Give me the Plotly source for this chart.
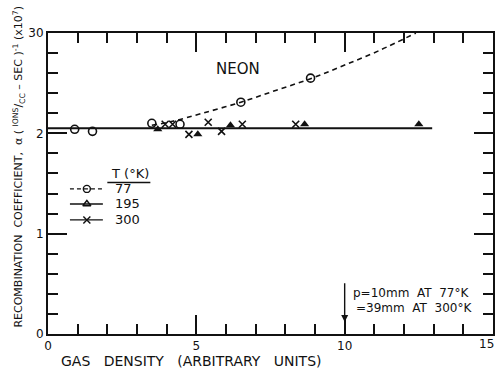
import plotly.graph_objects as go

# ---- data ----
t77_x = [0.9, 1.5, 3.5, 4.45, 6.5, 8.85]
t77_y = [2.04, 2.02, 2.10, 2.09, 2.31, 2.55]
t195_x = [3.7, 5.05, 6.15, 8.65, 12.5]
t195_y = [2.04, 1.99, 2.08, 2.09, 2.09]
t300_x = [3.95, 4.2, 4.75, 5.4, 5.85, 6.55, 8.35]
t300_y = [2.09, 2.09, 1.99, 2.11, 2.02, 2.09, 2.09]
fit77_x = [3.5, 4.2, 5.2, 6.5, 7.7, 8.9, 10.0, 11.2, 12.4]
fit77_y = [2.08, 2.12, 2.20, 2.31, 2.43, 2.55, 2.68, 2.83, 3.0]
flat_x = [0.0, 12.95]
flat_y = [2.05, 2.05]
legend_labels = ["77", "195", "300"]
x_ticks = [0, 5, 10, 15]
x_ticktext = ["0", "5", "10", ""]
y_ticks = [0, 1, 2, 3]
y_ticktext = ["0", "1", "2", "30"]

FONT = "DejaVu Sans"
BLACK = "#111"

fig = go.Figure()
fig.add_trace(go.Scatter(x=flat_x, y=flat_y, mode="lines",
                         line=dict(color=BLACK, width=2), showlegend=False))
fig.add_trace(go.Scatter(x=fit77_x, y=fit77_y, mode="lines",
                         line=dict(color=BLACK, width=1.6, dash="5px,4px", shape="spline"),
                         showlegend=False))
fig.add_trace(go.Scatter(x=t77_x, y=t77_y, mode="markers",
                         marker=dict(symbol="circle-open", size=8, color=BLACK, line=dict(width=1.6)),
                         showlegend=False))
fig.add_trace(go.Scatter(x=t195_x, y=t195_y, mode="markers",
                         marker=dict(symbol="triangle-up", size=8, color=BLACK),
                         showlegend=False))
fig.add_trace(go.Scatter(x=t300_x, y=t300_y, mode="markers",
                         marker=dict(symbol="x-thin", size=7, color=BLACK, line=dict(width=1.6, color=BLACK)),
                         showlegend=False))

# ---- hand-made key (positions in data units) ----
key_rows = [1.446, 1.296, 1.137]
key_x0, key_x1, key_xm = 0.74, 1.85, 1.31
key_syms = ["circle-open", "triangle-up-open", "x-thin"]
key_dash = ["4px,3px", "solid", "solid"]
for row, sym, dsh, lab in zip(key_rows, key_syms, key_dash, legend_labels):
    fig.add_trace(go.Scatter(x=[key_x0, key_x1], y=[row, row], mode="lines",
                             line=dict(color=BLACK, width=1.4, dash=dsh), showlegend=False))
    fig.add_trace(go.Scatter(x=[key_xm], y=[row], mode="markers",
                             marker=dict(symbol=sym, size=7, color=BLACK,
                                         line=dict(width=1.4, color=BLACK)),
                             showlegend=False))
    fig.add_annotation(x=2.2, y=row, text=lab, showarrow=False, xanchor="left",
                       yanchor="middle", font=dict(family=FONT, size=13, color=BLACK))
fig.add_annotation(x=2.05, y=1.6, text="T (°K)", showarrow=False, xanchor="left",
                   yanchor="middle", font=dict(family=FONT, size=13, color=BLACK))
fig.add_shape(type="line", x0=2.0, x1=3.45, y0=1.51, y1=1.51,
              line=dict(color=BLACK, width=1.4))

# dummy trace for the mirrored axes
fig.add_trace(go.Scatter(x=[0], y=[0], xaxis="x2", yaxis="y2", mode="markers",
                         marker=dict(opacity=0), showlegend=False, hoverinfo="skip"))

fig.add_annotation(x=6.4, y=2.64, text="NEON", showarrow=False,
                   font=dict(family=FONT, size=15, color=BLACK))

# pressure note with arrow
fig.add_annotation(x=10, y=0.12, ax=10, ay=0.52, xref="x", yref="y", axref="x", ayref="y",
                   text="", showarrow=True, arrowhead=2, arrowsize=1, arrowwidth=1.4,
                   arrowcolor=BLACK)
fig.add_annotation(x=10.2, y=0.41, text="p=10mm  AT  77°K", showarrow=False, xanchor="left",
                   font=dict(family=FONT, size=12, color=BLACK))
fig.add_annotation(x=10.3, y=0.26, text="=39mm  AT  300°K", showarrow=False, xanchor="left",
                   font=dict(family=FONT, size=12, color=BLACK))

# last x tick label, kept inside the page
fig.add_annotation(x=1.0, y=0, xref="paper", yref="paper", text="15", showarrow=False,
                   xanchor="center", yanchor="top", xshift=-7, yshift=-1,
                   font=dict(family=FONT, size=12, color=BLACK))

# axis titles
fig.add_annotation(x=-0.066, y=0.555, xref="paper", yref="paper",
                   text="RECOMBINATION  COEFFICIENT,  α ( <sup>IONS</sup>/<sub>CC</sub> – SEC )<sup>-1</sup> (x10<sup>7</sup>)",
                   textangle=-90, showarrow=False, xanchor="center", yanchor="middle",
                   font=dict(family=FONT, size=11, color=BLACK))
fig.add_annotation(x=0.323, y=-0.09, xref="paper", yref="paper",
                   text="GAS   DENSITY   (ARBITRARY   UNITS)", showarrow=False,
                   xanchor="center", yanchor="middle",
                   font=dict(family=FONT, size=14, color=BLACK))

axis_common = dict(showline=True, linecolor=BLACK, linewidth=2, showgrid=False,
                   zeroline=False, ticks="inside", tickcolor=BLACK, tickwidth=1.5,
                   ticklen=19)
fig.update_layout(
    width=496, height=368, margin=dict(l=48, r=3, t=33, b=34),
    paper_bgcolor="white", plot_bgcolor="white", showlegend=False,
    font=dict(family=FONT, size=12, color=BLACK),
    xaxis=dict(range=[0, 15], tickvals=x_ticks, ticktext=x_ticktext, ticklabelstandoff=0,
               minor=dict(dtick=1, ticks="inside", ticklen=10, tickcolor=BLACK, tickwidth=1.5),
               **axis_common),
    yaxis=dict(range=[0, 3], tickvals=y_ticks, ticktext=y_ticktext,
               minor=dict(dtick=0.2, ticks="inside", ticklen=10, tickcolor=BLACK, tickwidth=1.5),
               **axis_common),
    xaxis2=dict(range=[0, 15], overlaying="x", side="top", anchor="y", tickvals=x_ticks,
                showticklabels=False,
                minor=dict(dtick=1, ticks="inside", ticklen=10, tickcolor=BLACK, tickwidth=1.5),
                **axis_common),
    yaxis2=dict(range=[0, 3], overlaying="y", side="right", anchor="x", tickvals=y_ticks,
                showticklabels=False,
                minor=dict(dtick=0.2, ticks="inside", ticklen=10, tickcolor=BLACK, tickwidth=1.5),
                **axis_common),
)
fig.write_html("out.html")
